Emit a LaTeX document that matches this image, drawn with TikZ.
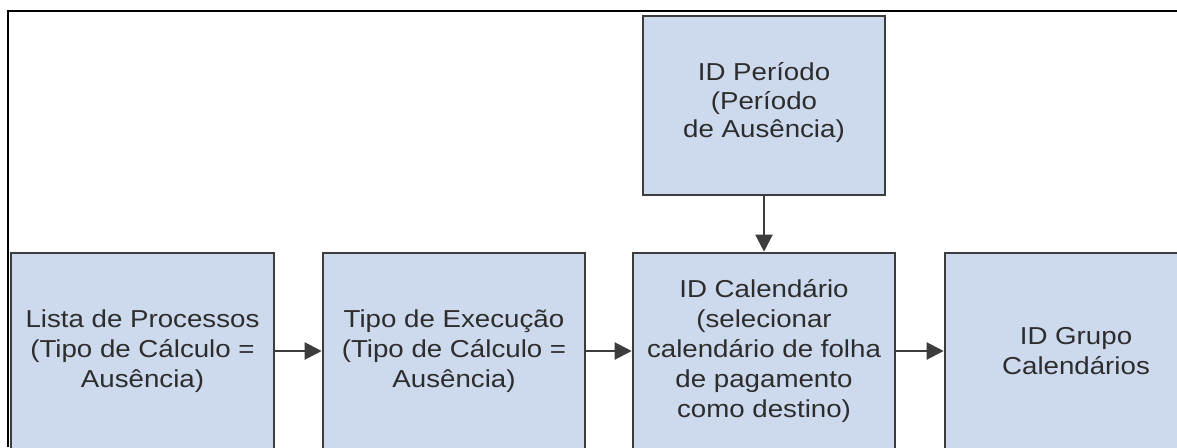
\documentclass[tikz,border=0pt]{standalone}
\usepackage{fontspec}
\setmainfont{Liberation Sans}[FakeStretch=1.13]
\usetikzlibrary{arrows.meta}
\definecolor{boxfill}{RGB}{205,217,236}
\definecolor{boxline}{RGB}{60,60,60}
\definecolor{txt}{RGB}{45,45,45}
\begin{document}
\begin{tikzpicture}[x=1pt,y=-1pt,
  box/.style={draw=boxline,line width=2.6pt,fill=boxfill,text=txt,align=center,
    inner sep=0pt,font=\fontsize{24.5}{30}\selectfont},
  flow/.style={draw=boxline,line width=2.2pt,-{Triangle[length=17pt,width=17pt]}}]
\useasboundingbox (0,0) rectangle (1177,447);
\draw[black,line width=2.2pt] (8,447) -- (8,11) -- (1177,11);
\node[box,minimum width=263pt,minimum height=196pt] (b1) at (142.5,351)
  {Lista de Processos\\(Tipo de Cálculo =\\Ausência)};
\node[box,minimum width=262pt,minimum height=196pt] (b2) at (454,351)
  {Tipo de Execução\\(Tipo de Cálculo =\\Ausência)};
\node[box,minimum width=262pt,minimum height=196pt] (b3) at (764,351)
  {ID Calendário\\(selecionar\\calendário de folha\\de pagamento\\como destino)};
\node[box,minimum width=262pt,minimum height=196pt] (b4) at (1076,351)
  {ID Grupo\\Calendários};
\node[box,minimum width=242pt,minimum height=179pt,font=\fontsize{24.5}{28.5}\selectfont] (top) at (764,105.5)
  {ID Período\\(Período\\de Ausência)\\[-18pt]};
\draw[flow] (b1.east) -- (b2.west);
\draw[flow] (b2.east) -- (b3.west);
\draw[flow] (b3.east) -- (b4.west);
\draw[flow] (top.south) -- (b3.north);
\end{tikzpicture}
\end{document}
